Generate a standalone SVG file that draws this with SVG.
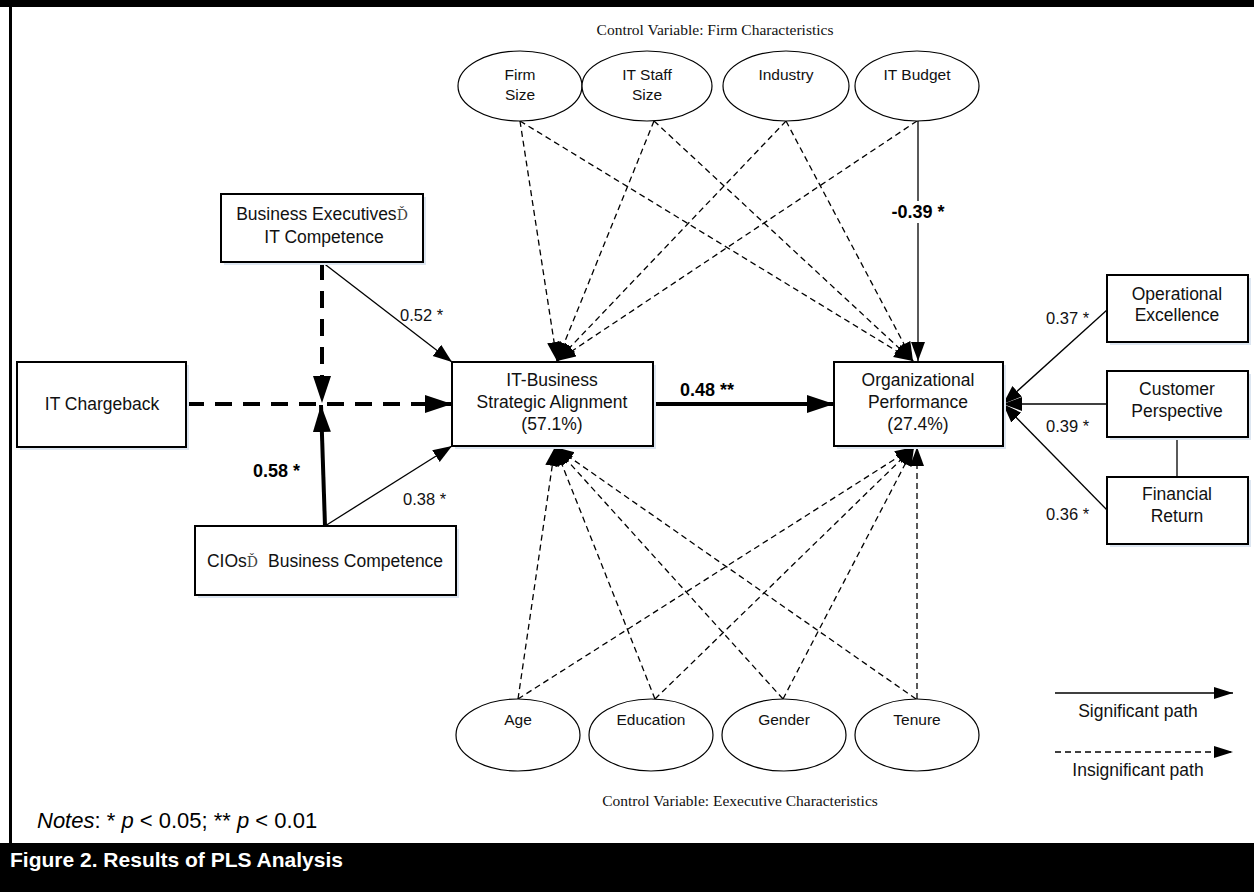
<svg xmlns="http://www.w3.org/2000/svg" width="1254" height="892" viewBox="0 0 1254 892">
<style>
.box{fill:#fff;stroke:#000;stroke-width:2}
.shd{fill:#dde6f1}
.ell{fill:#fff;stroke:#000;stroke-width:1.2}
.t{font-family:"Liberation Sans",Arial,sans-serif;font-size:17.5px;fill:#111;text-anchor:middle}
.te{font-family:"Liberation Sans",Arial,sans-serif;font-size:15.5px;fill:#111;text-anchor:middle}
.lab{font-family:"Liberation Sans",Arial,sans-serif;font-size:16.5px;fill:#111}
.labb{font-family:"Liberation Sans",Arial,sans-serif;font-size:18px;font-weight:bold;fill:#000}
.ser{font-family:"Liberation Serif","Times New Roman",serif;font-size:15.5px;fill:#111;text-anchor:middle}
.thin{stroke:#000;stroke-width:1.3;fill:none}
.dash{stroke:#000;stroke-width:1.3;fill:none;stroke-dasharray:6 4}
.thick{stroke:#000;stroke-width:4;fill:none}
.thickd{stroke:#000;stroke-width:4;fill:none;stroke-dasharray:17 11}
</style>
<defs>
<marker id="ab" markerUnits="userSpaceOnUse" markerWidth="28" markerHeight="20" refX="27" refY="9" orient="auto"><path d="M0,0 L27,9 L0,18 z" fill="#000"/></marker>
<marker id="as" markerUnits="userSpaceOnUse" markerWidth="20" markerHeight="16" refX="19" refY="7" orient="auto"><path d="M0,0 L19,7 L0,14 z" fill="#000"/></marker>
<marker id="al" markerUnits="userSpaceOnUse" markerWidth="20" markerHeight="14" refX="19" refY="6" orient="auto"><path d="M0,0 L19,6 L0,12 z" fill="#000"/></marker>
</defs>

<!-- frame -->
<rect x="0" y="0" width="1254" height="7" fill="#000"/>
<rect x="9" y="0" width="3" height="845" fill="#000"/>
<rect x="0" y="843" width="1254" height="49" fill="#000"/>

<text class="ser" x="715" y="35">Control Variable: Firm Characteristics</text>
<text class="ser" x="740" y="806">Control Variable: Eexecutive Characteristics</text>

<g id="connectors">
  <line class="dash" x1="520" y1="121" x2="557" y2="361" marker-end="url(#as)"/>
  <line class="dash" x1="654" y1="121" x2="557" y2="361" marker-end="url(#as)"/>
  <line class="dash" x1="786" y1="121" x2="557" y2="361" marker-end="url(#as)"/>
  <line class="dash" x1="917" y1="121" x2="557" y2="361" marker-end="url(#as)"/>
  <line class="dash" x1="520" y1="121" x2="913" y2="361" marker-end="url(#as)"/>
  <line class="dash" x1="654" y1="121" x2="913" y2="361" marker-end="url(#as)"/>
  <line class="dash" x1="786" y1="121" x2="913" y2="361" marker-end="url(#as)"/>
  <line class="thin" x1="918" y1="121" x2="918" y2="361" marker-end="url(#as)"/>
  <line class="dash" x1="518" y1="699" x2="555" y2="447" marker-end="url(#as)"/>
  <line class="dash" x1="655" y1="699" x2="555" y2="447" marker-end="url(#as)"/>
  <line class="dash" x1="783" y1="699" x2="555" y2="447" marker-end="url(#as)"/>
  <line class="dash" x1="916" y1="699" x2="555" y2="447" marker-end="url(#as)"/>
  <line class="dash" x1="518" y1="699" x2="914" y2="447" marker-end="url(#as)"/>
  <line class="dash" x1="655" y1="699" x2="914" y2="447" marker-end="url(#as)"/>
  <line class="dash" x1="783" y1="699" x2="914" y2="447" marker-end="url(#as)"/>
  <line class="dash" x1="917" y1="699" x2="917" y2="447" marker-end="url(#as)"/>

  <line class="thickd" x1="187" y1="404" x2="452" y2="404" marker-end="url(#ab)"/>
  <line class="thickd" x1="322" y1="263" x2="322" y2="403" marker-end="url(#ab)"/>
  <line class="thick" x1="325" y1="526" x2="321" y2="405" marker-end="url(#ab)"/>
  <line class="thin" x1="322" y1="262" x2="452" y2="362" marker-end="url(#as)"/>
  <line class="thin" x1="325" y1="526" x2="452" y2="446" marker-end="url(#as)"/>
  <line class="thick" x1="653" y1="404" x2="834" y2="404" marker-end="url(#ab)"/>
  <line class="thin" x1="1107" y1="310" x2="1003" y2="404" marker-end="url(#as)"/>
  <line class="thin" x1="1107" y1="404" x2="1003" y2="404" marker-end="url(#as)"/>
  <line class="thin" x1="1107" y1="510" x2="1003" y2="404" marker-end="url(#as)"/>
  <line class="thin" x1="1177" y1="437" x2="1177" y2="477"/>

  <rect x="886" y="201" width="64" height="22" fill="#fff"/>
  <text class="labb" x="918" y="218" text-anchor="middle">-0.39 *</text>
  <text class="lab" x="400" y="321">0.52 *</text>
  <text class="lab" x="403" y="505">0.38 *</text>
  <text class="labb" x="253" y="477">0.58 *</text>
  <text class="labb" x="680" y="396">0.48 **</text>
  <text class="lab" x="1046" y="324">0.37 *</text>
  <text class="lab" x="1046" y="432">0.39 *</text>
  <text class="lab" x="1046" y="520">0.36 *</text>
</g>

<g id="firm-size"><ellipse class="ell" cx="520" cy="86" rx="62" ry="35"/><text class="te" x="520" y="80">Firm</text><text class="te" x="520" y="100">Size</text></g>
<g id="it-staff-size"><ellipse class="ell" cx="647" cy="86" rx="65" ry="35"/><text class="te" x="647" y="80">IT Staff</text><text class="te" x="647" y="100">Size</text></g>
<g id="industry"><ellipse class="ell" cx="786" cy="86" rx="63" ry="35"/><text class="te" x="786" y="80">Industry</text></g>
<g id="it-budget"><ellipse class="ell" cx="917" cy="86" rx="62" ry="35"/><text class="te" x="917" y="80">IT Budget</text></g>

<g id="age"><ellipse class="ell" cx="518" cy="735" rx="62" ry="36"/><text class="te" x="518" y="725">Age</text></g>
<g id="education"><ellipse class="ell" cx="651" cy="735" rx="62" ry="36"/><text class="te" x="651" y="725">Education</text></g>
<g id="gender"><ellipse class="ell" cx="784" cy="735" rx="62" ry="36"/><text class="te" x="784" y="725">Gender</text></g>
<g id="tenure"><ellipse class="ell" cx="917" cy="735" rx="62" ry="36"/><text class="te" x="917" y="725">Tenure</text></g>

<g id="business-exec">
  <rect class="shd" x="224" y="197" width="202" height="68"/>
  <rect class="box" x="221" y="194" width="202" height="68"/>
  <text class="t" x="322" y="220">Business Executives<tspan font-family="'DejaVu Serif',serif" font-size="14px" fill="#444">Ď</tspan></text>
  <text class="t" x="324" y="243">IT Competence</text>
</g>
<g id="it-chargeback">
  <rect class="shd" x="20" y="365" width="169" height="85"/>
  <rect class="box" x="17" y="362" width="169" height="85"/>
  <text class="t" x="102" y="410">IT Chargeback</text>
</g>
<g id="cios">
  <rect class="shd" x="198" y="529" width="261" height="69"/>
  <rect class="box" x="195" y="526" width="261" height="69"/>
  <text class="t" x="325" y="567">CIOs<tspan font-family="'DejaVu Serif',serif" font-size="14px" fill="#444">Ď</tspan><tspan dx="10">Business Competence</tspan></text>
</g>
<g id="itbsa">
  <rect class="shd" x="455" y="365" width="201" height="84"/>
  <rect class="box" x="452" y="362" width="201" height="84"/>
  <text class="t" x="552" y="386">IT-Business</text>
  <text class="t" x="552" y="408">Strategic Alignment</text>
  <text class="t" x="552" y="430">(57.1%)</text>
</g>
<g id="org-performance">
  <rect class="shd" x="837" y="365" width="169" height="84"/>
  <rect class="box" x="834" y="362" width="169" height="84"/>
  <text class="t" x="918" y="386">Organizational</text>
  <text class="t" x="918" y="408">Performance</text>
  <text class="t" x="918" y="430">(27.4%)</text>
</g>
<g id="operational-excellence">
  <rect class="shd" x="1110" y="278" width="141" height="67"/>
  <rect class="box" x="1107" y="275" width="141" height="67"/>
  <text class="t" x="1177" y="300">Operational</text>
  <text class="t" x="1177" y="321">Excellence</text>
</g>
<g id="customer-perspective">
  <rect class="shd" x="1110" y="374" width="141" height="66"/>
  <rect class="box" x="1107" y="371" width="141" height="66"/>
  <text class="t" x="1177" y="395">Customer</text>
  <text class="t" x="1177" y="417">Perspective</text>
</g>
<g id="financial-return">
  <rect class="shd" x="1110" y="480" width="141" height="67"/>
  <rect class="box" x="1107" y="477" width="141" height="67"/>
  <text class="t" x="1177" y="500">Financial</text>
  <text class="t" x="1177" y="522">Return</text>
</g>

<g id="legend">
  <line class="thin" x1="1055" y1="693" x2="1233" y2="693" marker-end="url(#al)"/>
  <text class="t" x="1138" y="717">Significant path</text>
  <line class="dash" x1="1055" y1="752" x2="1233" y2="752" marker-end="url(#al)"/>
  <text class="t" x="1138" y="776">Insignificant path</text>
</g>

<text x="37" y="828" font-family="'Liberation Sans',Arial,sans-serif" font-size="22px" fill="#000"><tspan font-style="italic">Notes</tspan>: * <tspan font-style="italic">p</tspan> &lt; 0.05; ** <tspan font-style="italic">p</tspan> &lt; 0.01</text>
<text x="10" y="867" font-family="'Liberation Sans',Arial,sans-serif" font-size="21px" font-weight="bold" fill="#fff">Figure 2. Results of PLS Analysis</text>
</svg>
